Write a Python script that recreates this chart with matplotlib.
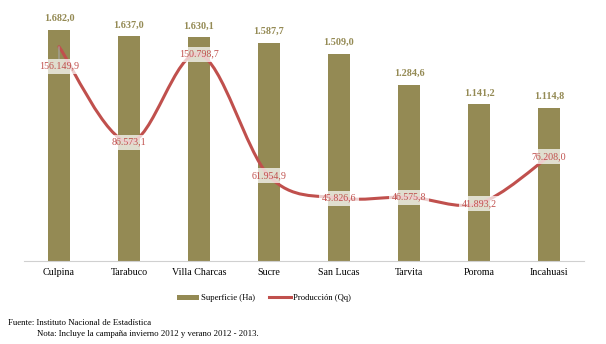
import matplotlib.pyplot as plt
from matplotlib.path import Path
from matplotlib.patches import PathPatch, Patch
from matplotlib.lines import Line2D

plt.rcParams['font.family'] = ['Liberation Serif', 'DejaVu Serif']

municipios = ["Culpina", "Tarabuco", "Villa Charcas", "Sucre", "San Lucas",
              "Tarvita", "Poroma", "Incahuasi"]
superficie = [1682.0, 1637.0, 1630.1, 1587.7, 1509.0, 1284.6, 1141.2, 1114.8]
produccion = [156149.9, 86573.1, 150798.7, 61954.9, 45826.6, 46575.8, 41893.2, 76208.0]

OLIVE = "#948A54"
RED = "#C0504D"


def fmt(v):
    # formato es: 1.682,0
    s = f"{v:,.1f}"
    return s.replace(",", "X").replace(".", ",").replace("X", ".")


def smooth_path(xs, ys):
    # curva suavizada tipo Excel (Bezier con vecinos)
    n = len(xs)
    verts = [(xs[0], ys[0])]
    codes = [Path.MOVETO]
    for i in range(n - 1):
        x0, y0 = xs[max(i - 1, 0)], ys[max(i - 1, 0)]
        x1, y1 = xs[i], ys[i]
        x2, y2 = xs[i + 1], ys[i + 1]
        x3, y3 = xs[min(i + 2, n - 1)], ys[min(i + 2, n - 1)]
        c1 = (x1 + (x2 - x0) / 6, y1 + (y2 - y0) / 6)
        c2 = (x2 - (x3 - x1) / 6, y2 - (y3 - y1) / 6)
        verts += [c1, c2, (x2, y2)]
        codes += [Path.CURVE4] * 3
    return Path(verts, codes)


fig = plt.figure(figsize=(6.06, 3.44), dpi=100)
ax = fig.add_axes([0.0396, 0.2413, 0.9241, 0.718])
x = list(range(len(municipios)))

ax.bar(x, superficie, width=0.31, color=OLIVE, zorder=1)
ax.set_xlim(-0.5, len(municipios) - 0.5)
ax.set_ylim(0, 1800)
for xi, v in zip(x, superficie):
    ax.annotate(fmt(v), (xi, v), xytext=(0, 5), textcoords="offset points",
                ha="center", va="bottom", fontsize=7.3, color=OLIVE, fontweight="bold")

ax.set_xticks(x)
ax.set_xticklabels(municipios, fontsize=7.2)
ax.tick_params(axis="x", length=0, pad=5)
ax.set_yticks([])
for sp in ["top", "right", "left"]:
    ax.spines[sp].set_visible(False)
ax.spines["bottom"].set_color("#D0D0D0")

ax2 = ax.twinx()
ax2.set_ylim(0, 180000)
ax2.set_yticks([])
for sp in ax2.spines.values():
    sp.set_visible(False)
ax2.add_patch(PathPatch(smooth_path(x, produccion), facecolor="none",
                        edgecolor=RED, lw=2.2, capstyle="round", zorder=2))

box = dict(boxstyle="square,pad=0.3", facecolor="white", edgecolor="none", alpha=0.72)
for i, (xi, v) in enumerate(zip(x, produccion)):
    if i == 0:
        ax2.annotate(fmt(v), (xi, v), xytext=(0, -14), textcoords="offset points",
                     ha="center", va="center", fontsize=7.2, color=RED, bbox=box,
                     arrowprops=dict(arrowstyle="-", color="#A6A6A6", lw=0.8,
                                     shrinkA=0, shrinkB=0), zorder=3)
    else:
        ax2.annotate(fmt(v), (xi, v), ha="center", va="center", fontsize=7.2,
                     color=RED, bbox=box, zorder=3)

handles = [Patch(facecolor=OLIVE, edgecolor="none"),
           Line2D([0], [0], color=RED, lw=2.2)]
fig.legend(handles, ["Superficie (Ha)", "Producción (Qq)"], loc="center",
           bbox_to_anchor=(0.435, 0.133), ncol=2, frameon=False, fontsize=6.2,
           handlelength=2.6, handleheight=0.55, handletextpad=0.2, columnspacing=1.6)

fig.text(0.013, 0.061, "Fuente: Instituto Nacional de Estadística", fontsize=6.3, va="center")
fig.text(0.061, 0.028, "Nota: Incluye la campaña invierno 2012 y verano 2012 - 2013.",
         fontsize=6.3, va="center")

fig.savefig("out.png", dpi=100)
